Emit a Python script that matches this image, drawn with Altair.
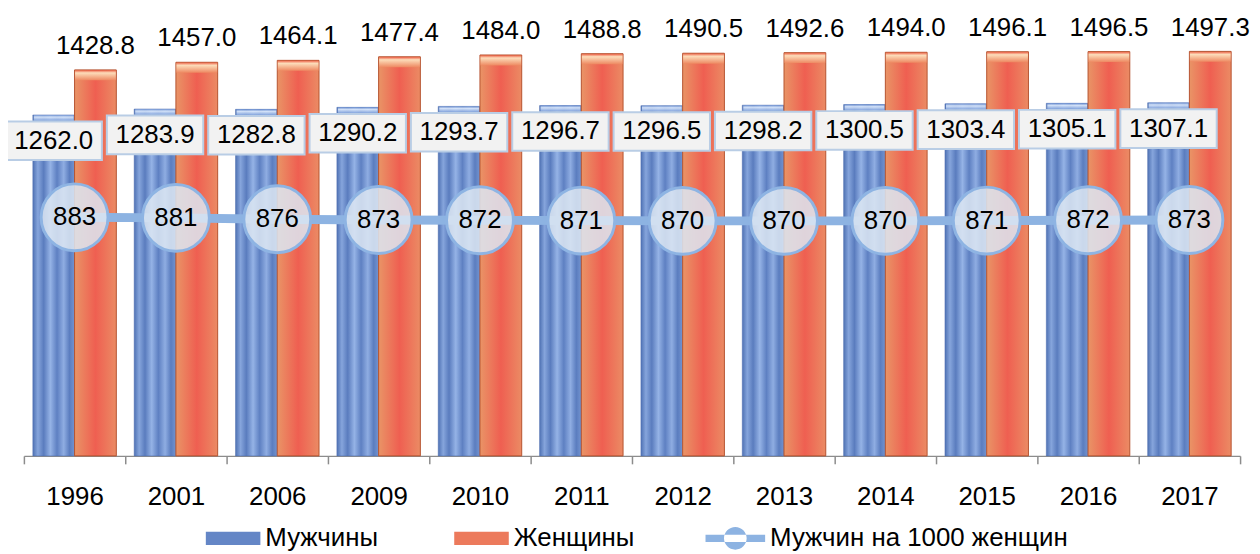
import altair as alt
import pandas as pd

years = ["1996", "2001", "2006", "2009", "2010", "2011", "2012", "2013", "2014", "2015", "2016", "2017"]
men = [1262.0, 1283.9, 1282.8, 1290.2, 1293.7, 1296.7, 1296.5, 1298.2, 1300.5, 1303.4, 1305.1, 1307.1]
women = [1428.8, 1457.0, 1464.1, 1477.4, 1484.0, 1488.8, 1490.5, 1492.6, 1494.0, 1496.1, 1496.5, 1497.3]
ratio = [883, 881, 876, 873, 872, 871, 870, 870, 870, 871, 872, 873]
series = ["Мужчины", "Женщины", "Мужчин на 1000 женщин"]

bars_df = pd.DataFrame({
    "year": years * 2,
    "series": [series[0]] * len(years) + [series[1]] * len(years),
    "value": men + women,
})
ratio_df = pd.DataFrame({"year": years, "value": ratio})
legend_df = pd.DataFrame({"series": series})

FONT = "Liberation Sans"
FS = 26

x_enc = alt.X(
    "year:N", sort=years,
    scale=alt.Scale(paddingInner=0, paddingOuter=0),
    axis=alt.Axis(title=None, labelAngle=0, labelFontSize=FS, labelFont=FONT,
                  labelColor="black", domainColor="#8c8c8c", tickColor="#8c8c8c",
                  tickSize=8, tickBand="extent", labelPadding=20, grid=False,
                  domainWidth=1.5, tickWidth=1.5),
)
y_enc = alt.Y("value:Q", scale=alt.Scale(domain=[0, 1600]), axis=None)
xo_enc = alt.XOffset("series:N", scale=alt.Scale(domain=series[:2], paddingOuter=0.214, paddingInner=0))

men_grad = alt.Gradient(
    gradient="linear", x1=0, y1=0, x2=1, y2=0,
    stops=[
        alt.GradientStop(offset=0.0, color="#4f72b4"),
        alt.GradientStop(offset=0.12, color="#86a5dc"),
        alt.GradientStop(offset=0.26, color="#5a7cbe"),
        alt.GradientStop(offset=0.42, color="#95b3e6"),
        alt.GradientStop(offset=0.58, color="#5e80c2"),
        alt.GradientStop(offset=0.74, color="#8fade2"),
        alt.GradientStop(offset=0.88, color="#5b7dbf"),
        alt.GradientStop(offset=1.0, color="#7394d0"),
    ],
)
women_grad = alt.Gradient(
    gradient="linear", x1=0, y1=0, x2=1, y2=0,
    stops=[
        alt.GradientStop(offset=0.0, color="#e99466"),
        alt.GradientStop(offset=0.5, color="#ef5f51"),
        alt.GradientStop(offset=1.0, color="#eb8b64"),
    ],
)
women_top = alt.Gradient(
    gradient="linear", x1=0, y1=0, x2=0, y2=1,
    stops=[
        alt.GradientStop(offset=0.0, color="#f06a50"),
        alt.GradientStop(offset=0.25, color="#fde2bf"),
        alt.GradientStop(offset=1.0, color="#ee8a62"),
    ],
)
men_top = alt.Gradient(
    gradient="linear", x1=0, y1=0, x2=0, y2=1,
    stops=[
        alt.GradientStop(offset=0.0, color="#6a8ed0"),
        alt.GradientStop(offset=0.35, color="#dbe8fb"),
        alt.GradientStop(offset=1.0, color="#7d9fdb"),
    ],
)

base = alt.Chart(bars_df)
men_data = base.transform_filter(alt.datum.series == series[0])
women_data = base.transform_filter(alt.datum.series == series[1])

men_bars = men_data.mark_bar(
    fill=men_grad, stroke="#4a6cae", strokeWidth=0.5
).encode(x=x_enc, xOffset=xo_enc, y=y_enc)

men_bevel = men_data.mark_tick(
    fill=men_top, thickness=6, size=40, yOffset=3, opacity=0.9
).encode(x=x_enc, xOffset=xo_enc, y=y_enc)

women_bars = women_data.mark_bar(
    fill=women_grad, stroke="#b5532f", strokeWidth=1
).encode(x=x_enc, xOffset=xo_enc, y=y_enc)

women_bevel = women_data.mark_tick(
    fill=women_top, thickness=10, size=41, yOffset=5.5, opacity=0.95
).encode(x=x_enc, xOffset=xo_enc, y=y_enc)

women_labels = women_data.mark_text(
    dy=-24, fontSize=FS, font=FONT, color="black", baseline="middle"
).encode(x=x_enc, xOffset=xo_enc, y=y_enc, text=alt.Text("value:Q", format=".1f"))

men_boxes = men_data.mark_point(
    shape="M-1,-0.4H1V0.4H-1Z", size=9409, filled=True, fill="#f2f2f2",
    stroke="#b9cde5", strokeWidth=2, opacity=1, yOffset=26
).encode(x=x_enc, xOffset=xo_enc, y=y_enc)

men_labels = men_data.mark_text(
    dy=26, fontSize=FS, font=FONT, color="black", baseline="middle"
).encode(x=x_enc, xOffset=xo_enc, y=y_enc, text=alt.Text("value:Q", format=".1f"))

rbase = alt.Chart(ratio_df)
ratio_line = rbase.mark_line(color="#8db3e2", strokeWidth=9).encode(x=x_enc, y=y_enc)
ratio_pts = rbase.mark_circle(
    size=4536, fill="#dce6f2", fillOpacity=0.86, stroke="#8eb4e3", strokeWidth=3, opacity=1
).encode(x=x_enc, y=y_enc)
ratio_labels = rbase.mark_text(
    fontSize=FS, font=FONT, color="black", baseline="middle"
).encode(x=x_enc, y=y_enc, text=alt.Text("value:Q", format="d"))

leg = alt.Legend(
    title=None, orient="none", legendX=178, legendY=488, direction="horizontal",
    symbolSize=3600, symbolOpacity=1, symbolStrokeWidth=0,
    labelFontSize=FS, labelFont=FONT, labelColor="black", labelOffset=5,
    labelLimit=400, columnPadding=71,
)
line_sym = ("M-1,-0.12H1V0.12H-1Z "
            "M-0.38,0A0.38,0.38 0 1,0 0.38,0A0.38,0.38 0 1,0 -0.38,0Z")
bar_sym = "M-0.83,-0.22H1V0.22H-0.83Z"
legend_layer = alt.Chart(legend_df).mark_point(filled=True, opacity=0).encode(
    color=alt.Color("series:N", scale=alt.Scale(domain=series, range=["#6486c6", "#ec7a5c", "#8db3e2"]), legend=leg),
    shape=alt.Shape("series:N", scale=alt.Scale(domain=series, range=[bar_sym, bar_sym, line_sym]), legend=leg),
)

chart = alt.layer(
    men_bars, men_bevel, women_bars, women_bevel, ratio_line, ratio_pts, ratio_labels,
    men_boxes, men_labels, women_labels, legend_layer
).properties(
    width=1224, height=435,
    padding={"left": 16, "top": 14, "right": 12, "bottom": 97},
    autosize=alt.AutoSizeParams(type="none"),
).configure_view(stroke=None)

chart.save("out.html", embed_options={"renderer": "svg", "actions": False})
